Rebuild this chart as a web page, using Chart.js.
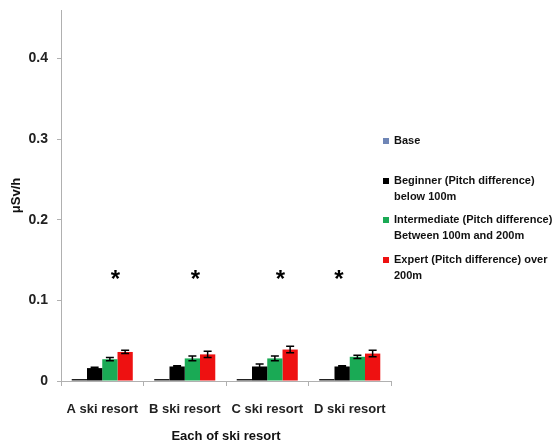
<!DOCTYPE html>
<html>
<head>
<meta charset="utf-8">
<script src="https://cdn.jsdelivr.net/npm/chart.js@4.4.1/dist/chart.umd.min.js"></script>
<style>
  html, body { margin: 0; padding: 0; background: #fff; }
  #wrap { width: 560px; height: 444px; position: relative; }
</style>
</head>
<body>
<div id="wrap"><canvas id="skiChart"></canvas></div>
<script>
// data
const resorts = ['A ski resort', 'B ski resort', 'C ski resort', 'D ski resort'];
const seriesNames = [
  ['Base'],
  ['Beginner (Pitch difference)', 'below 100m'],
  ['Intermediate (Pitch difference)', 'Between 100m and 200m'],
  ['Expert (Pitch difference) over', '200m']
];
const baseVals = [0.0025, 0.0025, 0.0025, 0.0025];
const beginnerVals = [0.016, 0.018, 0.018, 0.018];
const intermediateVals = [0.027, 0.028, 0.028, 0.030];
const expertVals = [0.036, 0.033, 0.039, 0.034];
const baseErr = [0, 0, 0, 0];
const beginnerErr = [0.001, 0.001, 0.003, 0.001];
const intermediateErr = [0.002, 0.003, 0.003, 0.002];
const expertErr = [0.002, 0.004, 0.004, 0.004];
const starPos = [0.16, 1.13, 2.16, 2.87];
const starLevel = 0.129;
const yTicks = [0, 0.1, 0.2, 0.3, 0.4];

(() => {
  const el = document.getElementById('skiChart');
  if (!el || !window.Chart) return;

  const colors = ['#6f86b6', '#000000', '#1aaa55', '#ee1111'];
  const vals = [baseVals, beginnerVals, intermediateVals, expertVals];
  const errs = [baseErr, beginnerErr, intermediateErr, expertErr];

  // error bars on top of each bar
  const errorBars = {
    id: 'errorBars',
    afterDatasetsDraw(chart) {
      const ctx = chart.ctx;
      const y = chart.scales.y;
      ctx.save();
      ctx.strokeStyle = '#000';
      ctx.lineWidth = 1.5;
      chart.data.datasets.forEach((ds, di) => {
        const meta = chart.getDatasetMeta(di);
        meta.data.forEach((bar, i) => {
          const e = errs[di][i];
          if (!e) return;
          const v = ds.data[i];
          const top = y.getPixelForValue(v + e);
          const bot = y.getPixelForValue(v - e);
          const cap = 4;
          ctx.beginPath();
          ctx.moveTo(bar.x, top); ctx.lineTo(bar.x, bot);
          ctx.moveTo(bar.x - cap, top); ctx.lineTo(bar.x + cap, top);
          ctx.moveTo(bar.x - cap, bot); ctx.lineTo(bar.x + cap, bot);
          ctx.stroke();
        });
      });
      ctx.restore();
    }
  };

  // asterisks + legend on the right
  const extras = {
    id: 'extras',
    afterDraw(chart) {
      const ctx = chart.ctx;
      const x = chart.scales.x, y = chart.scales.y;
      ctx.save();
      ctx.fillStyle = '#000';
      ctx.font = 'bold 24px "Liberation Sans", Arial, sans-serif';
      ctx.textAlign = 'center';
      ctx.textBaseline = 'middle';
      starPos.forEach(p => {
        ctx.fillText('*', x.getPixelForValue(p), y.getPixelForValue(starLevel) + 3);
      });

      // legend
      const lx = 383;
      const rows = [141, 181, 220, 260];
      ctx.textAlign = 'left';
      ctx.font = 'bold 11px "Liberation Sans Narrow", "Liberation Sans", Arial, sans-serif';
      seriesNames.forEach((lines, i) => {
        ctx.fillStyle = colors[i];
        ctx.fillRect(lx, rows[i] - 3, 6, 6);
        ctx.fillStyle = '#111';
        lines.forEach((t, k) => ctx.fillText(t, lx + 11, rows[i] + k * 16));
      });
      ctx.restore();
    }
  };

  new Chart(el, {
    type: 'bar',
    data: {
      labels: resorts,
      datasets: vals.map((d, i) => ({
        label: seriesNames[i].join(' '),
        data: d,
        backgroundColor: i === 0 ? '#222' : colors[i],
        borderWidth: 0,
        categoryPercentage: 0.74,
        barPercentage: 1.0
      }))
    },
    options: {
      responsive: true,
      maintainAspectRatio: false,
      animation: false,
      layout: { padding: { top: 10, right: 169, left: 0, bottom: 0 } },
      plugins: {
        legend: { display: false },
        tooltip: { enabled: false }
      },
      scales: {
        x: {
          grid: {
            offset: true,
            drawOnChartArea: false,
            drawTicks: true,
            tickLength: 5,
            color: '#b0b0b0'
          },
          border: { color: '#b0b0b0' },
          ticks: {
            color: '#222',
            padding: 16,
            maxRotation: 0,
            font: { family: '"Liberation Sans", Arial, sans-serif', size: 13, weight: 'bold' }
          },
          title: {
            display: true,
            text: 'Each of ski resort',
            color: '#111',
            padding: { top: 8, bottom: 0 },
            font: { family: '"Liberation Sans", Arial, sans-serif', size: 13, weight: 'bold' }
          },
          afterFit: (s) => { s.height = 63; s.paddingLeft = 0; s.paddingRight = 0; }
        },
        y: {
          min: 0,
          max: 0.46,
          afterBuildTicks: (s) => { s.ticks = yTicks.map(v => ({ value: v })); },
          grid: {
            drawOnChartArea: false,
            tickLength: 4,
            color: '#b0b0b0'
          },
          border: { color: '#b0b0b0' },
          ticks: {
            color: '#222',
            padding: 9,
            font: { family: '"Liberation Sans", Arial, sans-serif', size: 14, weight: 'bold' },
            callback: (v) => v === 0 ? '0' : v.toFixed(1)
          },
          title: {
            display: true,
            text: 'μSv/h',
            color: '#111',
            padding: { top: 9, bottom: 4 },
            font: { family: '"Liberation Sans", Arial, sans-serif', size: 13, weight: 'bold' }
          },
          afterFit: (s) => { s.width = 61; s.paddingTop = 0; s.paddingBottom = 0; }
        }
      }
    },
    plugins: [errorBars, extras]
  });
})();
</script>
</body>
</html>
